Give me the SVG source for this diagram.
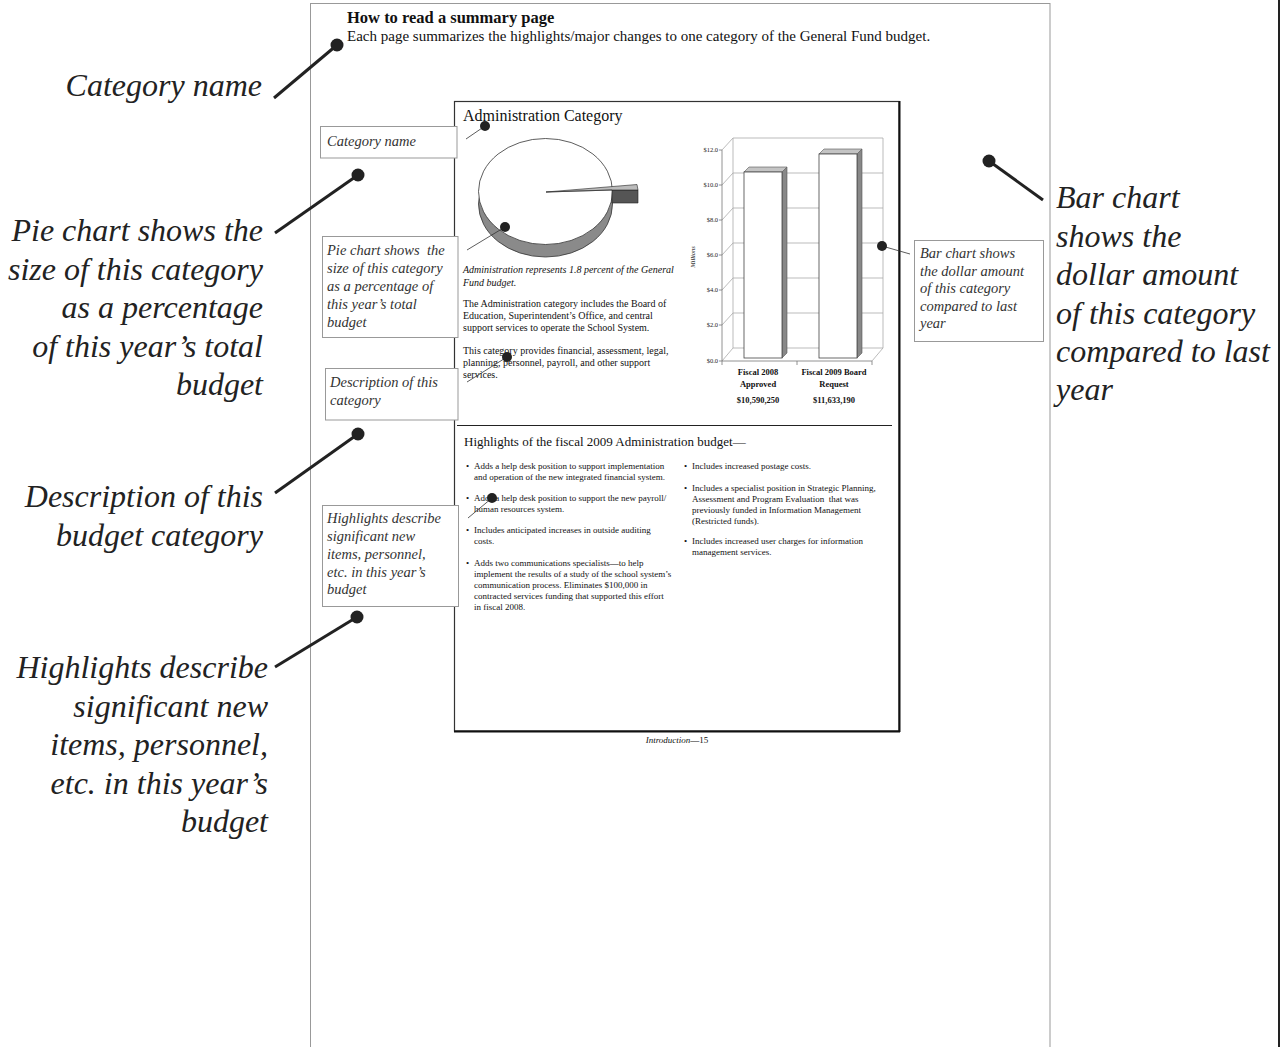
<svg xmlns="http://www.w3.org/2000/svg" width="1284" height="1047" viewBox="0 0 1284 1047">
<style>
.big{font-family:"Liberation Serif","DejaVu Serif",serif;font-style:italic;font-size:32px;fill:#222}
.note{font-family:"Liberation Serif","DejaVu Serif",serif;font-style:italic;font-size:14.5px;fill:#333}
.box{fill:#fff;stroke:#999;stroke-width:1}
.serif{font-family:"Liberation Serif","DejaVu Serif",serif;fill:#111}
.body{font-family:"Liberation Serif","DejaVu Serif",serif;font-size:10px;fill:#111}
.bul{font-family:"Liberation Serif","DejaVu Serif",serif;font-size:9px;fill:#111}
.ax{font-family:"Liberation Serif","DejaVu Serif",serif;font-size:6.5px;fill:#222}
.cat{font-family:"Liberation Serif","DejaVu Serif",serif;font-size:8.5px;font-weight:bold;fill:#111}
.grid{stroke:#aaa;stroke-width:0.8;fill:none}
.lead{stroke:#222;stroke-width:3;fill:none}
.thin{stroke:#333;stroke-width:0.8;fill:none}
.dot{fill:#222}
</style>
<rect width="1284" height="1047" fill="#fff"/>
<!-- outer page -->
<rect x="310.5" y="3.5" width="739.5" height="1060" fill="none" stroke="#999" stroke-width="1"/>
<line x1="1279" y1="0" x2="1279" y2="1047" stroke="#222" stroke-width="2"/>

<g id="header">
<text class="serif" x="347" y="23" font-size="16.5" font-weight="bold">How to read a summary page</text>
<text class="serif" x="347" y="41" font-size="15">Each page summarizes the highlights/major changes to one category of the General Fund budget.</text>
</g>

<!-- inner page -->
<g id="inner-page">
<rect x="454.5" y="101.5" width="444.5" height="629.5" fill="#fff" stroke="#333" stroke-width="1.2"/>
<line x1="899.5" y1="101" x2="899.5" y2="732" stroke="#111" stroke-width="2"/>
<line x1="454" y1="731.5" x2="900" y2="731.5" stroke="#111" stroke-width="2"/>
<text class="serif" x="463" y="121" font-size="16">Administration Category</text>
</g>

<g id="pie-chart">
<ellipse cx="545.5" cy="204" rx="67" ry="53" fill="#8a8a8a" stroke="#333" stroke-width="0.8"/>
<ellipse cx="545.5" cy="191.5" rx="67" ry="53" fill="#fff" stroke="#333" stroke-width="0.8"/>
<polygon points="612,190 638,190 638,203 612,203" fill="#555" stroke="#222" stroke-width="0.6"/>
<polygon points="546,192 637,184.5 638,190 612,190" fill="#bbb" stroke="#222" stroke-width="0.6"/>
<line x1="546" y1="192" x2="612" y2="190" stroke="#333" stroke-width="0.7"/>
</g>

<g id="description">
<text class="body" font-style="italic" x="463" y="273">Administration represents 1.8 percent of the General</text>
<text class="body" font-style="italic" x="463" y="285.5">Fund budget.</text>
<text class="body" x="463" y="307">The Administration category includes the Board of</text>
<text class="body" x="463" y="319">Education, Superintendent’s Office, and central</text>
<text class="body" x="463" y="331">support services to operate the School System.</text>
<text class="body" x="463" y="354">This category provides financial, assessment, legal,</text>
<text class="body" x="463" y="366">planning, personnel, payroll, and other support</text>
<text class="body" x="463" y="378">services.</text>
</g>

<g id="bar-chart">
<!-- back wall grid -->
<line class="grid" x1="733" y1="138" x2="883" y2="138"/>
<line class="grid" x1="733" y1="173" x2="883" y2="173"/>
<line class="grid" x1="733" y1="208" x2="883" y2="208"/>
<line class="grid" x1="733" y1="243" x2="883" y2="243"/>
<line class="grid" x1="733" y1="278" x2="883" y2="278"/>
<line class="grid" x1="733" y1="313" x2="883" y2="313"/>
<line class="grid" x1="733" y1="348" x2="883" y2="348"/>
<line class="grid" x1="733" y1="138" x2="733" y2="348"/>
<line class="grid" x1="883" y1="138" x2="883" y2="348"/>
<line class="grid" x1="722" y1="150" x2="733" y2="138"/>
<line class="grid" x1="722" y1="185" x2="733" y2="173"/>
<line class="grid" x1="722" y1="220" x2="733" y2="208"/>
<line class="grid" x1="722" y1="255" x2="733" y2="243"/>
<line class="grid" x1="722" y1="290" x2="733" y2="278"/>
<line class="grid" x1="722" y1="325" x2="733" y2="313"/>
<line class="grid" x1="722" y1="361" x2="733" y2="348"/>
<line class="grid" x1="872" y1="361" x2="883" y2="348"/>
<line x1="722" y1="150" x2="722" y2="361" stroke="#777" stroke-width="0.8"/>
<line x1="722" y1="361" x2="872" y2="361" stroke="#777" stroke-width="0.8"/>
<g stroke="#777" stroke-width="0.8">
<line x1="719" y1="150" x2="722" y2="150"/><line x1="719" y1="185" x2="722" y2="185"/>
<line x1="719" y1="220" x2="722" y2="220"/><line x1="719" y1="255" x2="722" y2="255"/>
<line x1="719" y1="290" x2="722" y2="290"/><line x1="719" y1="325" x2="722" y2="325"/>
<line x1="719" y1="361" x2="722" y2="361"/>
<line x1="722" y1="361" x2="722" y2="365"/><line x1="797" y1="361" x2="797" y2="365"/><line x1="872" y1="361" x2="872" y2="365"/>
</g>
<!-- bars -->
<polygon points="782,172 787,167 787,353 782,358" fill="#888" stroke="#555" stroke-width="0.6"/>
<polygon points="744,172 782,172 787,167 749,167" fill="#c4c4c4" stroke="#555" stroke-width="0.6"/>
<rect x="744" y="172" width="38" height="186" fill="#fff" stroke="#444" stroke-width="0.8"/>
<polygon points="857,154 862,149 862,353 857,358" fill="#888" stroke="#555" stroke-width="0.6"/>
<polygon points="819,154 857,154 862,149 824,149" fill="#c4c4c4" stroke="#555" stroke-width="0.6"/>
<rect x="819" y="154" width="38" height="204" fill="#fff" stroke="#444" stroke-width="0.8"/>
<!-- axis labels -->
<g class="ax" text-anchor="end">
<text x="718" y="152">$12.0</text><text x="718" y="187">$10.0</text>
<text x="718" y="222">$8.0</text><text x="718" y="257">$6.0</text>
<text x="718" y="292">$4.0</text><text x="718" y="327">$2.0</text>
<text x="718" y="363">$0.0</text>
</g>
<text class="ax" font-style="italic" transform="translate(695,257) rotate(-90)" text-anchor="middle">Millions</text>
<g class="cat" text-anchor="middle">
<text x="758" y="375">Fiscal 2008</text><text x="758" y="387">Approved</text><text x="758" y="403">$10,590,250</text>
<text x="834" y="375">Fiscal 2009 Board</text><text x="834" y="387">Request</text><text x="834" y="403">$11,633,190</text>
</g>
</g>

<line x1="457" y1="425.5" x2="892" y2="425.5" stroke="#222" stroke-width="1"/>

<g id="highlights">
<text class="serif" x="464" y="446" font-size="13">Highlights of the fiscal 2009 Administration budget—</text>
<g class="bul">
<text x="466" y="469">•</text><text x="474" y="469">Adds a help desk position to support implementation</text>
<text x="474" y="480">and operation of the new integrated financial system.</text>
<text x="466" y="501">•</text><text x="474" y="501">Adds a help desk position to support the new payroll/</text>
<text x="474" y="512">human resources system.</text>
<text x="466" y="533">•</text><text x="474" y="533">Includes anticipated increases in outside auditing</text>
<text x="474" y="544">costs.</text>
<text x="466" y="566">•</text><text x="474" y="566">Adds two communications specialists—to help</text>
<text x="474" y="577">implement the results of a study of the school system’s</text>
<text x="474" y="588">communication process. Eliminates $100,000 in</text>
<text x="474" y="599">contracted services funding that supported this effort</text>
<text x="474" y="610">in fiscal 2008.</text>
<text x="684" y="469">•</text><text x="692" y="469">Includes increased postage costs.</text>
<text x="684" y="491">•</text><text x="692" y="491">Includes a specialist position in Strategic Planning,</text>
<text x="692" y="502" xml:space="preserve">Assessment and Program Evaluation  that was</text>
<text x="692" y="512.5">previously funded in Information Management</text>
<text x="692" y="523.5">(Restricted funds).</text>
<text x="684" y="544">•</text><text x="692" y="544">Includes increased user charges for information</text>
<text x="692" y="555">management services.</text>
</g>
</g>

<text id="footer" class="serif" x="677" y="743" font-size="9" text-anchor="middle"><tspan font-style="italic">Introduction</tspan>—15</text>

<!-- small annotation boxes -->
<g id="box-category">
<rect class="box" x="320.5" y="126.5" width="136.5" height="31.5"/>
<text class="note" x="327" y="146">Category name</text>
</g>
<g id="box-pie">
<rect class="box" x="322.5" y="236.5" width="135.5" height="101"/>
<text class="note" x="327" y="255" xml:space="preserve">Pie chart shows  the</text>
<text class="note" x="327" y="273">size of this category</text>
<text class="note" x="327" y="291">as a percentage of</text>
<text class="note" x="327" y="309">this year’s total</text>
<text class="note" x="327" y="327">budget</text>
</g>
<g id="box-description">
<rect class="box" x="325.5" y="368.5" width="132.5" height="51.5"/>
<text class="note" x="330" y="387">Description of this</text>
<text class="note" x="330" y="405">category</text>
</g>
<g id="box-highlights">
<rect class="box" x="322.5" y="505.5" width="136" height="101"/>
<text class="note" x="327" y="523">Highlights describe</text>
<text class="note" x="327" y="541">significant new</text>
<text class="note" x="327" y="559">items, personnel,</text>
<text class="note" x="327" y="577">etc. in this year’s</text>
<text class="note" x="327" y="594">budget</text>
</g>
<g id="box-bar">
<rect class="box" x="914.5" y="240.5" width="129" height="101"/>
<text class="note" x="920" y="258">Bar chart shows</text>
<text class="note" x="920" y="276">the dollar amount</text>
<text class="note" x="920" y="293">of this category</text>
<text class="note" x="920" y="311">compared to last</text>
<text class="note" x="920" y="328">year</text>
</g>

<!-- big labels -->
<g id="label-category">
<text class="big" x="262" y="96" text-anchor="end">Category name</text>
</g>
<g id="label-pie" text-anchor="end">
<text class="big" x="263" y="241">Pie chart shows the</text>
<text class="big" x="263" y="280">size of this category</text>
<text class="big" x="263" y="318">as a percentage</text>
<text class="big" x="263" y="357">of this year’s total</text>
<text class="big" x="263" y="395">budget</text>
</g>
<g id="label-description" text-anchor="end">
<text class="big" x="263" y="507">Description of this</text>
<text class="big" x="263" y="546">budget category</text>
</g>
<g id="label-highlights" text-anchor="end">
<text class="big" x="268" y="678">Highlights describe</text>
<text class="big" x="268" y="717">significant new</text>
<text class="big" x="268" y="755">items, personnel,</text>
<text class="big" x="268" y="794">etc. in this year’s</text>
<text class="big" x="268" y="832">budget</text>
</g>
<g id="label-bar">
<text class="big" x="1056" y="208">Bar chart</text>
<text class="big" x="1056" y="247">shows the</text>
<text class="big" x="1056" y="285">dollar amount</text>
<text class="big" x="1056" y="324">of this category</text>
<text class="big" x="1056" y="362">compared to last</text>
<text class="big" x="1056" y="400">year</text>
</g>

<g id="connectors">
<line class="lead" x1="337" y1="45" x2="274" y2="98"/>
<circle class="dot" cx="337" cy="45" r="6.5"/>
<line class="lead" x1="358" y1="175" x2="275" y2="233"/>
<circle class="dot" cx="358" cy="175" r="6.5"/>
<line class="lead" x1="358" y1="434" x2="275" y2="493"/>
<circle class="dot" cx="358" cy="434" r="6.5"/>
<line class="lead" x1="357" y1="617" x2="275" y2="667"/>
<circle class="dot" cx="357" cy="617" r="6.5"/>
<line class="lead" x1="989" y1="161" x2="1043" y2="200"/>
<circle class="dot" cx="989" cy="161" r="6.5"/>
<!-- small pointers inside page -->
<line class="thin" x1="485" y1="126" x2="466" y2="139"/>
<circle class="dot" cx="485" cy="126" r="5"/>
<line class="thin" x1="505" y1="227" x2="467" y2="250"/>
<circle class="dot" cx="505" cy="227" r="5"/>
<line class="thin" x1="507" y1="357" x2="467" y2="382"/>
<circle class="dot" cx="507" cy="357" r="5"/>
<line class="thin" x1="492" y1="498" x2="468" y2="518"/>
<circle class="dot" cx="492" cy="498" r="5"/>
<line class="thin" x1="882" y1="246" x2="910" y2="254"/>
<circle class="dot" cx="882" cy="246" r="5"/>
</g>
</svg>
